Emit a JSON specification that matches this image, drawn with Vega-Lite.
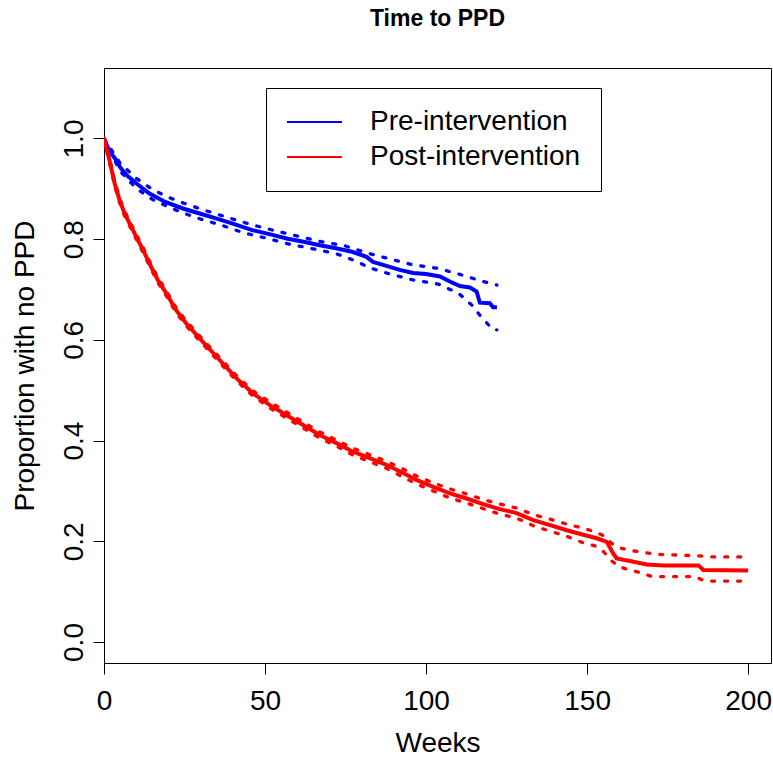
{
  "$schema": "https://vega.github.io/schema/vega-lite/v6.json",
  "width": 667,
  "height": 595,
  "autosize": "none",
  "padding": {"left": 104, "top": 68, "right": 2, "bottom": 94},
  "background": "white",
  "title": {"text": "Time to PPD", "font": "Liberation Sans", "fontSize": 23, "fontWeight": "bold", "color": "black", "anchor": "middle", "frame": "group", "baseline": "alphabetic", "offset": 19},
  "config": {"view": {"stroke": "black", "strokeWidth": 1}},
  "data": {"values": [
    {"g": "Pre-intervention", "k": "est", "t": 0, "v": 1},
    {"g": "Pre-intervention", "k": "est", "t": 1, "v": 0.985},
    {"g": "Pre-intervention", "k": "est", "t": 2, "v": 0.972},
    {"g": "Pre-intervention", "k": "est", "t": 3.8, "v": 0.957},
    {"g": "Pre-intervention", "k": "est", "t": 5, "v": 0.943},
    {"g": "Pre-intervention", "k": "est", "t": 6.9, "v": 0.928},
    {"g": "Pre-intervention", "k": "est", "t": 10, "v": 0.911},
    {"g": "Pre-intervention", "k": "est", "t": 14, "v": 0.891},
    {"g": "Pre-intervention", "k": "est", "t": 19, "v": 0.874},
    {"g": "Pre-intervention", "k": "est", "t": 24.5, "v": 0.861},
    {"g": "Pre-intervention", "k": "est", "t": 29.7, "v": 0.851},
    {"g": "Pre-intervention", "k": "est", "t": 35, "v": 0.841},
    {"g": "Pre-intervention", "k": "est", "t": 40, "v": 0.831},
    {"g": "Pre-intervention", "k": "est", "t": 46, "v": 0.818},
    {"g": "Pre-intervention", "k": "est", "t": 52, "v": 0.809},
    {"g": "Pre-intervention", "k": "est", "t": 57, "v": 0.801},
    {"g": "Pre-intervention", "k": "est", "t": 62, "v": 0.795},
    {"g": "Pre-intervention", "k": "est", "t": 67, "v": 0.788},
    {"g": "Pre-intervention", "k": "est", "t": 72, "v": 0.782},
    {"g": "Pre-intervention", "k": "est", "t": 77, "v": 0.775},
    {"g": "Pre-intervention", "k": "est", "t": 81.5, "v": 0.765},
    {"g": "Pre-intervention", "k": "est", "t": 83.5, "v": 0.755},
    {"g": "Pre-intervention", "k": "est", "t": 87.7, "v": 0.747},
    {"g": "Pre-intervention", "k": "est", "t": 91.8, "v": 0.739},
    {"g": "Pre-intervention", "k": "est", "t": 96, "v": 0.733},
    {"g": "Pre-intervention", "k": "est", "t": 100, "v": 0.731},
    {"g": "Pre-intervention", "k": "est", "t": 104.3, "v": 0.726},
    {"g": "Pre-intervention", "k": "est", "t": 107.4, "v": 0.716},
    {"g": "Pre-intervention", "k": "est", "t": 110.5, "v": 0.707},
    {"g": "Pre-intervention", "k": "est", "t": 113.6, "v": 0.704},
    {"g": "Pre-intervention", "k": "est", "t": 115.7, "v": 0.696},
    {"g": "Pre-intervention", "k": "est", "t": 116.7, "v": 0.674},
    {"g": "Pre-intervention", "k": "est", "t": 119.8, "v": 0.673},
    {"g": "Pre-intervention", "k": "est", "t": 120.8, "v": 0.665},
    {"g": "Pre-intervention", "k": "est", "t": 122, "v": 0.665},

    {"g": "Pre-intervention", "k": "hi", "t": 0, "v": 1},
    {"g": "Pre-intervention", "k": "hi", "t": 5, "v": 0.951},
    {"g": "Pre-intervention", "k": "hi", "t": 10, "v": 0.921},
    {"g": "Pre-intervention", "k": "hi", "t": 15, "v": 0.899},
    {"g": "Pre-intervention", "k": "hi", "t": 20, "v": 0.883},
    {"g": "Pre-intervention", "k": "hi", "t": 25, "v": 0.871},
    {"g": "Pre-intervention", "k": "hi", "t": 30, "v": 0.860},
    {"g": "Pre-intervention", "k": "hi", "t": 38.5, "v": 0.843},
    {"g": "Pre-intervention", "k": "hi", "t": 45.7, "v": 0.829},
    {"g": "Pre-intervention", "k": "hi", "t": 53, "v": 0.817},
    {"g": "Pre-intervention", "k": "hi", "t": 60.2, "v": 0.806},
    {"g": "Pre-intervention", "k": "hi", "t": 67.5, "v": 0.795},
    {"g": "Pre-intervention", "k": "hi", "t": 74.7, "v": 0.787},
    {"g": "Pre-intervention", "k": "hi", "t": 81.5, "v": 0.773},
    {"g": "Pre-intervention", "k": "hi", "t": 88.7, "v": 0.761},
    {"g": "Pre-intervention", "k": "hi", "t": 96, "v": 0.749},
    {"g": "Pre-intervention", "k": "hi", "t": 103.7, "v": 0.742},
    {"g": "Pre-intervention", "k": "hi", "t": 110.5, "v": 0.730},
    {"g": "Pre-intervention", "k": "hi", "t": 117.7, "v": 0.716},
    {"g": "Pre-intervention", "k": "hi", "t": 122, "v": 0.709},

    {"g": "Pre-intervention", "k": "lo", "t": 0, "v": 1},
    {"g": "Pre-intervention", "k": "lo", "t": 5, "v": 0.935},
    {"g": "Pre-intervention", "k": "lo", "t": 10, "v": 0.901},
    {"g": "Pre-intervention", "k": "lo", "t": 15, "v": 0.879},
    {"g": "Pre-intervention", "k": "lo", "t": 20, "v": 0.864},
    {"g": "Pre-intervention", "k": "lo", "t": 25, "v": 0.851},
    {"g": "Pre-intervention", "k": "lo", "t": 30, "v": 0.840},
    {"g": "Pre-intervention", "k": "lo", "t": 36.4, "v": 0.828},
    {"g": "Pre-intervention", "k": "lo", "t": 43.1, "v": 0.813},
    {"g": "Pre-intervention", "k": "lo", "t": 50.4, "v": 0.802},
    {"g": "Pre-intervention", "k": "lo", "t": 57.7, "v": 0.790},
    {"g": "Pre-intervention", "k": "lo", "t": 64.9, "v": 0.781},
    {"g": "Pre-intervention", "k": "lo", "t": 72.2, "v": 0.771},
    {"g": "Pre-intervention", "k": "lo", "t": 78.9, "v": 0.755},
    {"g": "Pre-intervention", "k": "lo", "t": 82, "v": 0.744},
    {"g": "Pre-intervention", "k": "lo", "t": 88.7, "v": 0.731},
    {"g": "Pre-intervention", "k": "lo", "t": 96, "v": 0.719},
    {"g": "Pre-intervention", "k": "lo", "t": 103.7, "v": 0.711},
    {"g": "Pre-intervention", "k": "lo", "t": 110, "v": 0.693},
    {"g": "Pre-intervention", "k": "lo", "t": 114.6, "v": 0.667},
    {"g": "Pre-intervention", "k": "lo", "t": 116.7, "v": 0.649},
    {"g": "Pre-intervention", "k": "lo", "t": 118.8, "v": 0.634},
    {"g": "Pre-intervention", "k": "lo", "t": 120.8, "v": 0.620},
    {"g": "Pre-intervention", "k": "lo", "t": 122, "v": 0.620},

    {"g": "Post-intervention", "k": "est", "t": 0, "v": 1},
    {"g": "Post-intervention", "k": "est", "t": 1.7, "v": 0.957},
    {"g": "Post-intervention", "k": "est", "t": 3.3, "v": 0.911},
    {"g": "Post-intervention", "k": "est", "t": 4.8, "v": 0.878},
    {"g": "Post-intervention", "k": "est", "t": 6.4, "v": 0.851},
    {"g": "Post-intervention", "k": "est", "t": 7.9, "v": 0.832},
    {"g": "Post-intervention", "k": "est", "t": 10, "v": 0.805},
    {"g": "Post-intervention", "k": "est", "t": 12.1, "v": 0.779},
    {"g": "Post-intervention", "k": "est", "t": 14.1, "v": 0.752},
    {"g": "Post-intervention", "k": "est", "t": 16.7, "v": 0.719},
    {"g": "Post-intervention", "k": "est", "t": 19.3, "v": 0.693},
    {"g": "Post-intervention", "k": "est", "t": 22.4, "v": 0.659},
    {"g": "Post-intervention", "k": "est", "t": 25.5, "v": 0.633},
    {"g": "Post-intervention", "k": "est", "t": 29.7, "v": 0.603},
    {"g": "Post-intervention", "k": "est", "t": 34.9, "v": 0.567},
    {"g": "Post-intervention", "k": "est", "t": 41.1, "v": 0.524},
    {"g": "Post-intervention", "k": "est", "t": 46.2, "v": 0.494},
    {"g": "Post-intervention", "k": "est", "t": 51.4, "v": 0.471},
    {"g": "Post-intervention", "k": "est", "t": 56.6, "v": 0.451},
    {"g": "Post-intervention", "k": "est", "t": 61.8, "v": 0.431},
    {"g": "Post-intervention", "k": "est", "t": 67, "v": 0.411},
    {"g": "Post-intervention", "k": "est", "t": 72.2, "v": 0.395},
    {"g": "Post-intervention", "k": "est", "t": 77.3, "v": 0.378},
    {"g": "Post-intervention", "k": "est", "t": 82.5, "v": 0.365},
    {"g": "Post-intervention", "k": "est", "t": 87.7, "v": 0.352},
    {"g": "Post-intervention", "k": "est", "t": 93, "v": 0.335},
    {"g": "Post-intervention", "k": "est", "t": 97, "v": 0.322},
    {"g": "Post-intervention", "k": "est", "t": 102.2, "v": 0.308},
    {"g": "Post-intervention", "k": "est", "t": 107.4, "v": 0.295},
    {"g": "Post-intervention", "k": "est", "t": 112.6, "v": 0.285},
    {"g": "Post-intervention", "k": "est", "t": 117.7, "v": 0.274},
    {"g": "Post-intervention", "k": "est", "t": 122.9, "v": 0.264},
    {"g": "Post-intervention", "k": "est", "t": 128.1, "v": 0.256},
    {"g": "Post-intervention", "k": "est", "t": 133.3, "v": 0.242},
    {"g": "Post-intervention", "k": "est", "t": 138.5, "v": 0.232},
    {"g": "Post-intervention", "k": "est", "t": 143.7, "v": 0.222},
    {"g": "Post-intervention", "k": "est", "t": 148.8, "v": 0.213},
    {"g": "Post-intervention", "k": "est", "t": 153, "v": 0.206},
    {"g": "Post-intervention", "k": "est", "t": 156.1, "v": 0.199},
    {"g": "Post-intervention", "k": "est", "t": 158.1, "v": 0.176},
    {"g": "Post-intervention", "k": "est", "t": 159.2, "v": 0.166},
    {"g": "Post-intervention", "k": "est", "t": 163.3, "v": 0.161},
    {"g": "Post-intervention", "k": "est", "t": 168.5, "v": 0.154},
    {"g": "Post-intervention", "k": "est", "t": 173.7, "v": 0.152},
    {"g": "Post-intervention", "k": "est", "t": 184.6, "v": 0.152},
    {"g": "Post-intervention", "k": "est", "t": 186.1, "v": 0.143},
    {"g": "Post-intervention", "k": "est", "t": 200, "v": 0.142},

    {"g": "Post-intervention", "k": "hi", "t": 0, "v": 1},
    {"g": "Post-intervention", "k": "hi", "t": 1.7, "v": 0.961},
    {"g": "Post-intervention", "k": "hi", "t": 3.3, "v": 0.916},
    {"g": "Post-intervention", "k": "hi", "t": 4.8, "v": 0.883},
    {"g": "Post-intervention", "k": "hi", "t": 6.4, "v": 0.856},
    {"g": "Post-intervention", "k": "hi", "t": 7.9, "v": 0.837},
    {"g": "Post-intervention", "k": "hi", "t": 10, "v": 0.810},
    {"g": "Post-intervention", "k": "hi", "t": 12.1, "v": 0.784},
    {"g": "Post-intervention", "k": "hi", "t": 14.1, "v": 0.757},
    {"g": "Post-intervention", "k": "hi", "t": 16.7, "v": 0.724},
    {"g": "Post-intervention", "k": "hi", "t": 19.3, "v": 0.698},
    {"g": "Post-intervention", "k": "hi", "t": 22.4, "v": 0.664},
    {"g": "Post-intervention", "k": "hi", "t": 25.5, "v": 0.638},
    {"g": "Post-intervention", "k": "hi", "t": 29.7, "v": 0.608},
    {"g": "Post-intervention", "k": "hi", "t": 34.9, "v": 0.572},
    {"g": "Post-intervention", "k": "hi", "t": 41.1, "v": 0.529},
    {"g": "Post-intervention", "k": "hi", "t": 46.2, "v": 0.499},
    {"g": "Post-intervention", "k": "hi", "t": 51.4, "v": 0.477},
    {"g": "Post-intervention", "k": "hi", "t": 56.6, "v": 0.457},
    {"g": "Post-intervention", "k": "hi", "t": 61.8, "v": 0.437},
    {"g": "Post-intervention", "k": "hi", "t": 67, "v": 0.417},
    {"g": "Post-intervention", "k": "hi", "t": 72.2, "v": 0.401},
    {"g": "Post-intervention", "k": "hi", "t": 77.3, "v": 0.385},
    {"g": "Post-intervention", "k": "hi", "t": 82.5, "v": 0.372},
    {"g": "Post-intervention", "k": "hi", "t": 87.7, "v": 0.359},
    {"g": "Post-intervention", "k": "hi", "t": 93, "v": 0.343},
    {"g": "Post-intervention", "k": "hi", "t": 97, "v": 0.330},
    {"g": "Post-intervention", "k": "hi", "t": 102.2, "v": 0.316},
    {"g": "Post-intervention", "k": "hi", "t": 107.4, "v": 0.304},
    {"g": "Post-intervention", "k": "hi", "t": 112.6, "v": 0.294},
    {"g": "Post-intervention", "k": "hi", "t": 117.7, "v": 0.283},
    {"g": "Post-intervention", "k": "hi", "t": 122.9, "v": 0.274},
    {"g": "Post-intervention", "k": "hi", "t": 128.1, "v": 0.266},
    {"g": "Post-intervention", "k": "hi", "t": 133.3, "v": 0.253},
    {"g": "Post-intervention", "k": "hi", "t": 138.5, "v": 0.244},
    {"g": "Post-intervention", "k": "hi", "t": 143.7, "v": 0.234},
    {"g": "Post-intervention", "k": "hi", "t": 148.8, "v": 0.226},
    {"g": "Post-intervention", "k": "hi", "t": 152.4, "v": 0.219},
    {"g": "Post-intervention", "k": "hi", "t": 155.2, "v": 0.211},
    {"g": "Post-intervention", "k": "hi", "t": 157.6, "v": 0.196},
    {"g": "Post-intervention", "k": "hi", "t": 160.7, "v": 0.186},
    {"g": "Post-intervention", "k": "hi", "t": 164.3, "v": 0.181},
    {"g": "Post-intervention", "k": "hi", "t": 168.5, "v": 0.177},
    {"g": "Post-intervention", "k": "hi", "t": 172.1, "v": 0.174},
    {"g": "Post-intervention", "k": "hi", "t": 185.1, "v": 0.171},
    {"g": "Post-intervention", "k": "hi", "t": 189.2, "v": 0.169},
    {"g": "Post-intervention", "k": "hi", "t": 200, "v": 0.169},

    {"g": "Post-intervention", "k": "lo", "t": 0, "v": 1},
    {"g": "Post-intervention", "k": "lo", "t": 1.7, "v": 0.953},
    {"g": "Post-intervention", "k": "lo", "t": 3.3, "v": 0.906},
    {"g": "Post-intervention", "k": "lo", "t": 4.8, "v": 0.873},
    {"g": "Post-intervention", "k": "lo", "t": 6.4, "v": 0.846},
    {"g": "Post-intervention", "k": "lo", "t": 7.9, "v": 0.827},
    {"g": "Post-intervention", "k": "lo", "t": 10, "v": 0.800},
    {"g": "Post-intervention", "k": "lo", "t": 12.1, "v": 0.774},
    {"g": "Post-intervention", "k": "lo", "t": 14.1, "v": 0.747},
    {"g": "Post-intervention", "k": "lo", "t": 16.7, "v": 0.714},
    {"g": "Post-intervention", "k": "lo", "t": 19.3, "v": 0.688},
    {"g": "Post-intervention", "k": "lo", "t": 22.4, "v": 0.654},
    {"g": "Post-intervention", "k": "lo", "t": 25.5, "v": 0.628},
    {"g": "Post-intervention", "k": "lo", "t": 29.7, "v": 0.598},
    {"g": "Post-intervention", "k": "lo", "t": 34.9, "v": 0.562},
    {"g": "Post-intervention", "k": "lo", "t": 41.1, "v": 0.519},
    {"g": "Post-intervention", "k": "lo", "t": 46.2, "v": 0.489},
    {"g": "Post-intervention", "k": "lo", "t": 51.4, "v": 0.465},
    {"g": "Post-intervention", "k": "lo", "t": 56.6, "v": 0.445},
    {"g": "Post-intervention", "k": "lo", "t": 61.8, "v": 0.425},
    {"g": "Post-intervention", "k": "lo", "t": 67, "v": 0.405},
    {"g": "Post-intervention", "k": "lo", "t": 72.2, "v": 0.389},
    {"g": "Post-intervention", "k": "lo", "t": 77.3, "v": 0.371},
    {"g": "Post-intervention", "k": "lo", "t": 82.5, "v": 0.358},
    {"g": "Post-intervention", "k": "lo", "t": 87.7, "v": 0.345},
    {"g": "Post-intervention", "k": "lo", "t": 93, "v": 0.327},
    {"g": "Post-intervention", "k": "lo", "t": 97, "v": 0.314},
    {"g": "Post-intervention", "k": "lo", "t": 102.2, "v": 0.300},
    {"g": "Post-intervention", "k": "lo", "t": 107.4, "v": 0.286},
    {"g": "Post-intervention", "k": "lo", "t": 112.6, "v": 0.276},
    {"g": "Post-intervention", "k": "lo", "t": 117.7, "v": 0.265},
    {"g": "Post-intervention", "k": "lo", "t": 122.9, "v": 0.254},
    {"g": "Post-intervention", "k": "lo", "t": 128.1, "v": 0.246},
    {"g": "Post-intervention", "k": "lo", "t": 133.3, "v": 0.231},
    {"g": "Post-intervention", "k": "lo", "t": 138.5, "v": 0.220},
    {"g": "Post-intervention", "k": "lo", "t": 143.7, "v": 0.210},
    {"g": "Post-intervention", "k": "lo", "t": 148.8, "v": 0.197},
    {"g": "Post-intervention", "k": "lo", "t": 152.4, "v": 0.191},
    {"g": "Post-intervention", "k": "lo", "t": 155.2, "v": 0.179},
    {"g": "Post-intervention", "k": "lo", "t": 157.3, "v": 0.163},
    {"g": "Post-intervention", "k": "lo", "t": 159.7, "v": 0.150},
    {"g": "Post-intervention", "k": "lo", "t": 163.1, "v": 0.143},
    {"g": "Post-intervention", "k": "lo", "t": 166.6, "v": 0.138},
    {"g": "Post-intervention", "k": "lo", "t": 170.1, "v": 0.130},
    {"g": "Post-intervention", "k": "lo", "t": 183.5, "v": 0.130},
    {"g": "Post-intervention", "k": "lo", "t": 186.6, "v": 0.121},
    {"g": "Post-intervention", "k": "lo", "t": 200, "v": 0.121}
  ]},
  "encoding": {
    "x": {"field": "t", "type": "quantitative",
      "scale": {"domain": [0, 207.1], "nice": false, "zero": false},
      "axis": {"title": "Weeks", "values": [0, 50, 100, 150, 200], "domain": false, "grid": false,
        "tickSize": 11, "tickColor": "black", "tickWidth": 1,
        "labelFont": "Liberation Sans", "labelFontSize": 28, "labelColor": "black", "labelPadding": 35, "labelBaseline": "alphabetic",
        "labelFlush": false, "labelOverlap": false, "labelBound": false,
        "titleFont": "Liberation Sans", "titleFontSize": 28, "titleFontWeight": "normal", "titleColor": "black",
        "titleY": 88, "titleBaseline": "alphabetic"}},
    "y": {"field": "v", "type": "quantitative",
      "scale": {"domain": [-0.0417, 1.14], "nice": false, "zero": false},
      "axis": {"title": "Proportion with no PPD", "values": [0, 0.2, 0.4, 0.6, 0.8, 1], "format": ".1f", "domain": false, "grid": false,
        "tickSize": 11, "tickColor": "black", "tickWidth": 1,
        "labelFont": "Liberation Sans", "labelFontSize": 28, "labelColor": "black", "labelPadding": 11,
        "labelAngle": -90, "labelAlign": "center", "labelBaseline": "alphabetic",
        "labelFlush": false, "labelOverlap": false, "labelBound": false,
        "titleFont": "Liberation Sans", "titleFontSize": 28, "titleFontWeight": "normal", "titleColor": "black",
        "titleAngle": -90, "titleX": -71, "titleY": 297.5, "titleBaseline": "alphabetic", "titleAlign": "center"}},
    "color": {"field": "g", "type": "nominal",
      "scale": {"domain": ["Pre-intervention", "Post-intervention"], "range": ["#0000ff", "#ff0000"]},
      "legend": {"title": null, "orient": "none", "legendX": 162, "legendY": 20, "direction": "vertical",
        "strokeColor": "black", "padding": 20, "symbolType": "stroke", "symbolSize": 3025, "symbolStrokeWidth": 2,
        "symbolDash": [], "labelFont": "Liberation Sans", "labelFontSize": 28, "labelColor": "black",
        "labelOffset": 27, "rowPadding": 7, "clipHeight": 28, "labelLimit": 0}}
  },
  "layer": [
    {"transform": [{"filter": "datum.g == 'Pre-intervention' && datum.k == 'est'"}],
     "mark": {"type": "line", "strokeWidth": 4, "clip": true}},
    {"transform": [{"filter": "datum.g == 'Pre-intervention' && datum.k != 'est'"}],
     "mark": {"type": "line", "strokeWidth": 3.3, "strokeDash": [3, 10], "strokeCap": "round", "clip": true},
     "encoding": {"detail": {"field": "k"}}},
    {"transform": [{"filter": "datum.g == 'Post-intervention' && datum.k == 'est'"}],
     "mark": {"type": "line", "strokeWidth": 4, "clip": true}},
    {"transform": [{"filter": "datum.g == 'Post-intervention' && datum.k != 'est'"}],
     "mark": {"type": "line", "strokeWidth": 3.3, "strokeDash": [3, 10], "strokeCap": "round", "clip": true},
     "encoding": {"detail": {"field": "k"}}}
  ]
}
